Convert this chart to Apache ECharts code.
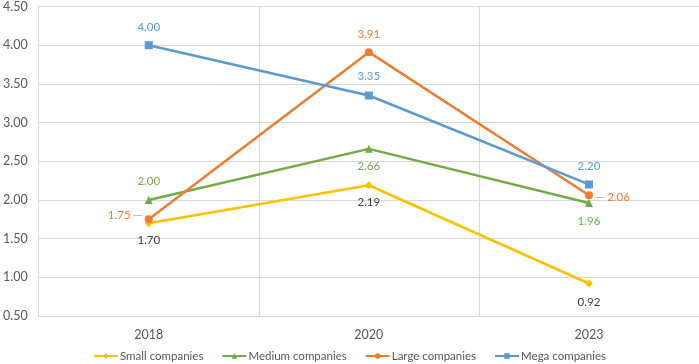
<!DOCTYPE html>
<html><head><meta charset="utf-8">
<script src="https://cdn.jsdelivr.net/npm/echarts@6/dist/echarts.min.js"></script>
<style>html,body{margin:0;padding:0;background:#fff}#c{width:699px;height:364px}</style>
</head><body><div id="c"></div>
<script>
const categories = ['2018', '2020', '2023'];
const smallCompanies = [1.70, 2.19, 0.92];
const mediumCompanies = [2.00, 2.66, 1.96];
const largeCompanies = [1.75, 3.91, 2.06];
const megaCompanies = [4.00, 3.35, 2.20];
const seriesNames = ['Small companies', 'Medium companies', 'Large companies', 'Mega companies'];
const yTicks = { min: 0.5, max: 4.5, interval: 0.5 };

const FONT = 'Lato';
const colors = ['#FFC000', '#70AD47', '#ED7D31', '#5B9BD5'];

function mk(name, data, color, symbol, size, labelCfg, labelColor) {
  return {
    name, type: 'line', data: data.map((v, i) => {
      const o = { value: v };
      if (labelCfg[i]) o.label = labelCfg[i];
      return o;
    }),
    symbol, symbolSize: size,
    lineStyle: { color, width: 2.5 },
    itemStyle: { color },
    label: {
      show: true, formatter: p => p.value.toFixed(2), color: labelColor, fontFamily: FONT, fontSize: 11.5,
      rich: { l: { color: '#A6A6A6', fontSize: 11, fontFamily: FONT } }
    },
    z: 2
  };
}

const chart = echarts.init(document.getElementById('c'));
chart.setOption({
  animation: false,
  color: colors,
  textStyle: { fontFamily: FONT },
  grid: { left: 37, right: 0, top: 4, bottom: 48 },
  legend: {
    bottom: -3, left: 'center', itemGap: 18, itemWidth: 24, itemHeight: 7,
    textStyle: { color: '#595959', fontSize: 11.5, fontFamily: FONT, padding: [0, 0, 0, -3] },
    data: seriesNames
  },
  xAxis: {
    type: 'category', data: categories, boundaryGap: true,
    axisLine: { lineStyle: { color: '#D9D9D9' } },
    axisTick: { show: false },
    axisLabel: { color: '#595959', fontSize: 12.5, fontFamily: FONT, margin: 12 },
    splitLine: { show: true, lineStyle: { color: '#D9D9D9' } }
  },
  yAxis: {
    type: 'value', min: yTicks.min, max: yTicks.max, interval: yTicks.interval,
    axisLine: { show: true, lineStyle: { color: '#D9D9D9' } },
    axisTick: { show: false },
    axisLabel: { color: '#595959', fontSize: 12.5, fontFamily: FONT, margin: 11, formatter: v => v.toFixed(2) },
    splitLine: { lineStyle: { color: '#D9D9D9' } }
  },
  series: [
    mk(seriesNames[0], smallCompanies, colors[0], 'diamond', 8,
      [{ position: 'bottom', distance: 7 }, { position: 'bottom', distance: 7 }, { position: 'bottom', distance: 9 }], '#404040'),
    mk(seriesNames[1], mediumCompanies, colors[1], 'triangle', 8,
      [{ position: 'top', distance: 9 }, { position: 'bottom', distance: 7 }, { position: 'bottom', distance: 8 }], colors[1]),
    mk(seriesNames[2], largeCompanies, colors[2], 'circle', 8,
      [{ position: 'left', distance: 3, offset: [0, -4], formatter: p => p.value.toFixed(2) + ' {l|─}' },
       { position: 'top', distance: 8 },
       { position: 'right', distance: 3, offset: [0, 2], formatter: p => '{l|─} ' + p.value.toFixed(2) }], colors[2]),
    mk(seriesNames[3], megaCompanies, colors[3], 'rect', 8,
      [{ position: 'top', distance: 8 }, { position: 'top', distance: 9 }, { position: 'top', distance: 8 }], colors[3])
  ]
});
</script></body></html>
